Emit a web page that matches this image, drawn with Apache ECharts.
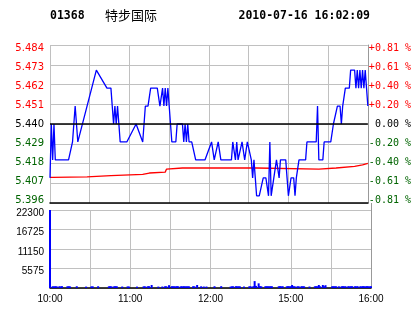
<!DOCTYPE html>
<html><head><meta charset="utf-8">
<script src="https://cdn.jsdelivr.net/npm/echarts@6/dist/echarts.min.js"></script>
<style>html,body{margin:0;padding:0;background:#fff}#c{width:414px;height:314px}</style>
</head><body><div id="c"></div>
<script>
const stockCode = '01368';
const stockName = '特步国际';
const stamp = '2010-07-16 16:02:09';
const prevClose = 5.44;
const timeLabels = {0: '10:00', 60: '11:00', 120: '12:00', 180: '15:00', 240: '16:00'};

const priceMinutes = [0,1,2,3,4,14,17,18,19,20,21,35,43,46,47,48,49,50,51,52,53,58,65,70,71,72,74,76,81,83,85,86,87,88,89,90,91,92,95,96,100,101,102,103,104,105,107,110,117,122,124,127,129,137,138,140,141,142,145,147,149,152,153,154,155,156,158,161,163,165,166,167,169,171,173,174,178,179,180,181,182,184,185,186,188,193,194,201,202,203,206,207,212,214,215,217,219,220,221,223,226,227,230,231,232,233,234,235,236,237,238,239,240];
const priceValues = [5.41,5.44,5.42,5.44,5.42,5.42,5.43,5.44,5.45,5.45,5.43,5.47,5.46,5.46,5.45,5.44,5.45,5.44,5.45,5.44,5.43,5.43,5.44,5.43,5.44,5.45,5.45,5.46,5.46,5.45,5.46,5.45,5.46,5.45,5.46,5.45,5.44,5.43,5.43,5.44,5.44,5.43,5.44,5.43,5.44,5.43,5.43,5.42,5.42,5.43,5.42,5.43,5.42,5.42,5.43,5.42,5.43,5.42,5.43,5.42,5.43,5.42,5.41,5.42,5.41,5.40,5.40,5.41,5.41,5.40,5.43,5.40,5.41,5.42,5.41,5.42,5.42,5.41,5.40,5.40,5.41,5.41,5.40,5.41,5.42,5.42,5.43,5.43,5.45,5.42,5.42,5.43,5.43,5.44,5.44,5.45,5.45,5.44,5.45,5.46,5.46,5.47,5.47,5.46,5.47,5.46,5.47,5.46,5.47,5.46,5.47,5.46,5.45];

const avgMinutes = [0,2,3,28,29,46,47,70,71,75,76,87,88,100,156,157,203,204,216,217,230,231,236,240];
const avgValues = [5.4103,5.4103,5.4106,5.4106,5.4112,5.4112,5.4119,5.4119,5.4127,5.4127,5.4132,5.4132,5.4149,5.4155,5.4155,5.4149,5.4149,5.4155,5.4155,5.4164,5.4164,5.4172,5.4172,5.4181];

const volMinutes = [0,2,3,4,5,7,8,9,13,14,15,20,27,31,32,36,44,45,46,48,49,50,54,58,59,65,70,71,73,74,76,81,84,86,87,89,91,92,93,94,95,96,98,99,100,101,102,103,104,107,108,110,113,115,117,123,128,135,136,137,139,140,141,142,145,149,150,152,153,154,156,157,158,161,162,163,164,165,166,171,172,173,174,177,178,179,180,181,182,183,185,186,188,189,190,194,198,199,200,201,202,204,205,206,211,212,213,214,216,218,219,220,221,223,224,225,226,228,229,230,232,233,234,235,236,237,238,239,240];
const volValues = [22300,500,450,520,480,500,460,520,480,510,450,500,400,480,460,500,480,520,470,500,530,480,420,450,420,400,480,460,500,520,850,400,420,480,500,800,520,480,500,460,520,490,500,480,520,460,500,490,470,500,480,850,480,420,420,500,520,400,480,500,520,480,500,460,420,480,500,520,1970,600,1330,520,480,500,520,480,500,520,480,500,520,480,500,480,520,500,500,850,520,480,500,480,520,500,480,420,480,520,500,850,480,850,500,800,500,520,480,500,480,500,520,480,500,520,480,500,520,500,480,520,500,480,520,500,480,520,500,480,500];

const priceTickLabels = ['5.396','5.407','5.418','5.429','5.440','5.451','5.462','5.473','5.484'];
const pctTickLabels = ['-0.81 %','-0.61 %','-0.40 %','-0.20 %',' 0.00 %','+0.20 %','+0.40 %','+0.61 %','+0.81 %'];
const volTickLabels = ['', '5575', '11150', '16725', '22300'];

const rel = p => (p - prevClose) * 1000;
const priceData = priceMinutes.map((m, i) => [m, rel(priceValues[i])]);
const avgData = avgMinutes.map((m, i) => [m, rel(avgValues[i])]);
const volData = volMinutes.map((m, i) => [m, volValues[i]]);

const RED = '#ff0000', GREEN = '#006400', GRID = '#c0c0c0';
const idx = v => Math.round((v + 44) / 11);

// rich styles: label i (0 = bottom) is nudged toward the panel's centre
function makeRich(family) {
  const r = {};
  for (let i = 0; i < 9; i++) {
    const s = (i - 4) * 0.75;        // >0 : move down
    const color = i > 4 ? RED : (i < 4 ? GREEN : '#000');
    r['r' + i] = {
      color: color, fontFamily: family, fontSize: 10,
      padding: s >= 0 ? [2 * s, 0, 0, 0] : [0, 0, -2 * s, 0]
    };
  }
  return r;
}

const chart = echarts.init(document.getElementById('c'));
chart.setOption({
  animation: false,
  backgroundColor: '#fff',
  grid: [
    {left: 50, top: 45, width: 321, height: 158},
    {left: 50, top: 210, width: 321, height: 78}
  ],
  xAxis: [
    {gridIndex: 0, type: 'value', min: 0, max: 240, interval: 30,
      axisLine: {show: true, onZero: false, lineStyle: {color: '#000', width: 1.5}},
      axisTick: {show: false}, axisLabel: {show: false},
      splitLine: {show: true, lineStyle: {color: GRID, width: 1}}},
    {gridIndex: 1, type: 'value', min: 0, max: 240, interval: 30,
      axisLine: {show: true, onZero: false, lineStyle: {color: '#000', width: 1.5}},
      axisTick: {show: false},
      axisLabel: {show: true, margin: 6, fontFamily: 'Liberation Sans', fontSize: 10, color: '#000',
        formatter: v => timeLabels[v] || ''},
      splitLine: {show: true, lineStyle: {color: GRID, width: 1}}}
  ],
  yAxis: [
    {gridIndex: 0, type: 'value', min: -44, max: 44, interval: 11, position: 'left',
      axisLine: {show: false}, axisTick: {show: false},
      axisLabel: {margin: 6, formatter: v => '{r' + idx(v) + '|' + priceTickLabels[idx(v)] + '}',
        rich: makeRich('DejaVu Sans')},
      splitLine: {show: true, lineStyle: {color: GRID, width: 1}}},
    {gridIndex: 0, type: 'value', min: -44, max: 44, interval: 11, position: 'right',
      axisLine: {show: true, lineStyle: {color: '#999', width: 1}}, axisTick: {show: false},
      axisLabel: {margin: 1, formatter: v => '{r' + idx(v) + '|' + pctTickLabels[idx(v)] + '}',
        rich: makeRich('DejaVu Sans Mono')},
      splitLine: {show: false}},
    {gridIndex: 1, type: 'value', min: 0, max: 22300, interval: 5575, position: 'left',
      axisLine: {show: false}, axisTick: {show: false},
      axisLabel: {margin: 6,
        formatter: v => { const t = volTickLabels[Math.round(v / 5575)]; return t ? '{d|' + t + '}' : ''; },
        rich: {d: {fontFamily: 'Liberation Sans', fontSize: 10, color: '#000', padding: [6, 0, 0, 0]}}},
      splitLine: {show: true, lineStyle: {color: GRID, width: 1}}},
    {gridIndex: 1, type: 'value', min: 0, max: 22300, interval: 5575, position: 'right',
      axisLine: {show: true, lineStyle: {color: '#999', width: 1}}, axisTick: {show: false},
      axisLabel: {show: false}, splitLine: {show: false}}
  ],
  series: [
    {type: 'line', xAxisIndex: 0, yAxisIndex: 0, data: avgData, symbol: 'none',
      lineStyle: {color: RED, width: 1.3}, z: 3},
    {type: 'line', xAxisIndex: 0, yAxisIndex: 0, data: priceData, symbol: 'none',
      lineStyle: {color: '#0000ff', width: 1.3}, z: 4,
      markLine: {silent: true, symbol: 'none', label: {show: false},
        lineStyle: {color: '#000', width: 1.5, type: 'solid'},
        data: [{yAxis: 0}]}},
    {type: 'bar', xAxisIndex: 1, yAxisIndex: 2, data: volData, barWidth: 2,
      itemStyle: {color: '#0000ff'}}
  ],
  graphic: [
    {type: 'text', left: 50, top: 10, style: {text: stockCode, font: 'bold 11.5px "DejaVu Sans Mono"', fill: '#000'}},
    {type: 'text', left: 105, top: 9, style: {text: stockName, font: '13px "Noto Sans CJK SC"', fill: '#000'}},
    {type: 'text', right: 44, top: 10, style: {text: stamp, font: 'bold 11.5px "DejaVu Sans Mono"', fill: '#000'}},
    {type: 'line', shape: {x1: 371.5, y1: 203, x2: 371.5, y2: 210}, style: {stroke: '#999', lineWidth: 1}}
  ]
});
</script>
</body></html>
